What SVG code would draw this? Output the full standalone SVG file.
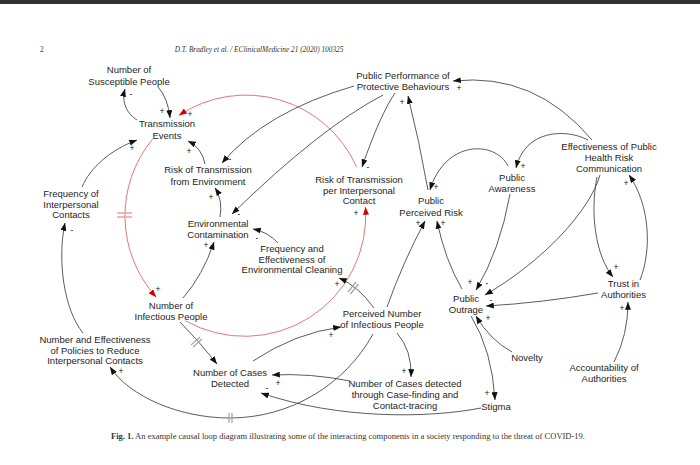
<svg xmlns="http://www.w3.org/2000/svg" width="700" height="465" viewBox="0 0 700 465">
<defs>
<style>
.n{font-family:"Liberation Sans",Arial,sans-serif;font-size:9.5px;fill:#1e1e1e;text-anchor:middle}
.s{font-family:"Liberation Sans",Arial,sans-serif;font-size:8.5px;fill:#111111;text-anchor:middle}
.c{fill:none;stroke:#4a4a4a;stroke-width:0.9;marker-end:url(#ah)}
.r{fill:none;stroke:#e06868;stroke-width:0.9;marker-end:url(#ahr)}
.d{stroke:#a8a8a8;stroke-width:1.3;fill:none}
.dr{stroke:#f2a0a0;stroke-width:1.5;fill:none}
.hd{font-family:"Liberation Serif","Times New Roman",serif;font-size:7.3px;fill:#333}
</style>
<marker id="ah" markerUnits="userSpaceOnUse" markerWidth="8" markerHeight="6" refX="7.8" refY="3" orient="auto" viewBox="0 0 8 6"><path d="M0,0 L8,3 L0,6 z" fill="#111"/></marker>
<marker id="ahr" markerUnits="userSpaceOnUse" markerWidth="8" markerHeight="6" refX="7.8" refY="3" orient="auto" viewBox="0 0 8 6"><path d="M0,0 L8,3 L0,6 z" fill="#d40000"/></marker>
</defs>
<rect width="700" height="465" fill="#ffffff"/>
<rect width="700" height="4" fill="#333"/>
<text class="hd" x="40" y="52">2</text>
<text class="hd" x="259" y="52" text-anchor="middle" font-style="italic">D.T. Bradley et al. / EClinicalMedicine 21 (2020) 100325</text>

<g id="connectors">
<!-- red loop -->
<path class="r" d="M356.5,166.8 A121,121 0 0 0 179,115.3"/>
<path class="r" d="M152.6,139 A121,121 0 0 0 156.1,297"/>
<path class="r" d="M185.5,320.8 A121,121 0 0 0 365.5,207"/>
<line class="dr" x1="117" y1="213" x2="132" y2="213"/>
<line class="dr" x1="117" y1="217" x2="132" y2="217"/>
<!-- grey -->
<path class="c" d="M137,120 C128,114 121,104 125,89"/>
<path class="c" d="M158,87 Q168,98 170,118"/>
<path class="c" d="M205,164 Q202,148 188,141"/>
<path class="c" d="M82,187 C90,168 110,150 137,140"/>
<path class="c" d="M83,333 C64,310 57,260 65,223"/>
<path class="c" d="M354,86 Q265,112 222,163"/>
<path class="c" d="M383,95 Q320,128 232,214"/>
<path class="c" d="M395,93 Q380,115 362,167"/>
<path class="c" d="M220,217 Q223,200 215,188"/>
<path class="c" d="M278,243 Q268,232 253,229"/>
<path class="c" d="M183,298 Q203,275 214,242"/>
<path class="c" d="M180,322 Q198,340 217,364"/>
<path class="c" d="M374,308 Q358,286 339,278"/>
<path class="c" d="M253,361 Q295,333 341,327"/>
<path class="c" d="M350,381 Q310,373 272,375"/>
<path class="c" d="M481,408 C430,418 340,420 261,393"/>
<path class="c" d="M373,334 C345,385 290,418 230,418 C180,418 130,397 110,367"/>
<path class="c" d="M387,307 Q403,262 425,221"/>
<path class="c" d="M397,333 Q412,350 411,377"/>
<path class="c" d="M428,190 Q419,140 408,96"/>
<path class="c" d="M508,166 C495,140 445,140 430,190"/>
<path class="c" d="M462,289 Q445,260 437,221"/>
<path class="c" d="M510,194 Q500,250 476,290"/>
<path class="c" d="M600,175 C590,210 545,260 485,295"/>
<path class="c" d="M598,293 Q540,303 486,306"/>
<path class="c" d="M597,177 C590,212 595,255 613,277"/>
<path class="c" d="M640,280 C652,250 650,205 629,175"/>
<path class="c" d="M614,362 Q628,335 628,302"/>
<path class="c" d="M592,140 Q535,72 453,81"/>
<path class="c" d="M588,140 C565,128 525,130 516,168"/>
<path class="c" d="M512,352 Q490,340 476,316"/>
<path class="c" d="M471,316 Q492,350 495,400"/>
<!-- delay marks -->
<line class="d" x1="191" y1="345" x2="200" y2="337"/>
<line class="d" x1="193" y1="347" x2="202" y2="339"/>
<line class="d" x1="348" y1="292" x2="356" y2="282"/>
<line class="d" x1="350.5" y1="294" x2="358.5" y2="284"/>
<line class="d" x1="229" y1="413" x2="229" y2="423"/>
<line class="d" x1="232" y1="413" x2="232" y2="423"/>
</g>

<g id="signs">
<text class="s" x="131" y="97">-</text>
<text class="s" x="162" y="114">+</text>
<text class="s" x="190" y="116.5">+</text>
<text class="s" x="132" y="151">+</text>
<text class="s" x="189" y="154">+</text>
<text class="s" x="230" y="161.5">-</text>
<text class="s" x="211" y="200">+</text>
<text class="s" x="239" y="217">-</text>
<text class="s" x="257" y="241">-</text>
<text class="s" x="206" y="248">+</text>
<text class="s" x="72" y="233">-</text>
<text class="s" x="158" y="292">+</text>
<text class="s" x="337" y="287">+</text>
<text class="s" x="356" y="216">+</text>
<text class="s" x="368" y="170">-</text>
<text class="s" x="402" y="105">+</text>
<text class="s" x="436" y="190">+</text>
<text class="s" x="418" y="226">+</text>
<text class="s" x="443" y="226">+</text>
<text class="s" x="459" y="91">+</text>
<text class="s" x="523" y="169">+</text>
<text class="s" x="470" y="285">+</text>
<text class="s" x="487" y="286">-</text>
<text class="s" x="491" y="303">-</text>
<text class="s" x="616" y="270">+</text>
<text class="s" x="626" y="186">+</text>
<text class="s" x="622" y="311">+</text>
<text class="s" x="488" y="321">+</text>
<text class="s" x="487" y="396">+</text>
<text class="s" x="404" y="374">+</text>
<text class="s" x="331" y="338">+</text>
<text class="s" x="278" y="386">+</text>
<text class="s" x="267" y="391">-</text>
<text class="s" x="121" y="374">+</text>
</g>

<g id="n-susceptible"><text class="n" x="129" y="73">Number of</text><text class="n" x="129" y="85">Susceptible People</text></g>
<g id="n-transmission"><text class="n" x="167" y="127">Transmission</text><text class="n" x="167" y="139">Events</text></g>
<g id="n-risk-env"><text class="n" x="208" y="173">Risk of Transmission</text><text class="n" x="208" y="185">from Environment</text></g>
<g id="n-freq-contacts"><text class="n" x="71" y="197">Frequency of</text><text class="n" x="71" y="207.5">Interpersonal</text><text class="n" x="71" y="218">Contacts</text></g>
<g id="n-env-contam"><text class="n" x="218" y="227">Environmental</text><text class="n" x="218" y="238">Contamination</text></g>
<g id="n-cleaning"><text class="n" x="292" y="252">Frequency and</text><text class="n" x="292" y="262.5">Effectiveness of</text><text class="n" x="292" y="273">Environmental Cleaning</text></g>
<g id="n-infectious"><text class="n" x="171" y="309">Number of</text><text class="n" x="171" y="320">Infectious People</text></g>
<g id="n-risk-contact"><text class="n" x="359" y="183">Risk of Transmission</text><text class="n" x="359" y="194">per Interpersonal</text><text class="n" x="359" y="204">Contact</text></g>
<g id="n-perceived-risk"><text class="n" x="431" y="204">Public</text><text class="n" x="431" y="215.5">Perceived Risk</text></g>
<g id="n-protective"><text class="n" x="403" y="79">Public Performance of</text><text class="n" x="403" y="90">Protective Behaviours</text></g>
<g id="n-awareness"><text class="n" x="512" y="181">Public</text><text class="n" x="512" y="192">Awareness</text></g>
<g id="n-communication"><text class="n" x="609" y="150">Effectiveness of Public</text><text class="n" x="609" y="161">Health Risk</text><text class="n" x="609" y="172">Communication</text></g>
<g id="n-trust"><text class="n" x="623.5" y="287">Trust in</text><text class="n" x="623.5" y="297.5">Authorities</text></g>
<g id="n-outrage"><text class="n" x="466" y="302">Public</text><text class="n" x="466" y="313">Outrage</text></g>
<g id="n-perceived-number"><text class="n" x="382" y="317">Perceived Number</text><text class="n" x="382" y="328">of Infectious People</text></g>
<g id="n-policies"><text class="n" x="95" y="343">Number and Effectiveness</text><text class="n" x="95" y="353.5">of Policies to Reduce</text><text class="n" x="95" y="364">Interpersonal Contacts</text></g>
<g id="n-cases"><text class="n" x="230" y="376">Number of Cases</text><text class="n" x="230" y="387">Detected</text></g>
<g id="n-cases-tracing"><text class="n" x="405" y="387">Number of Cases detected</text><text class="n" x="405" y="398">through Case-finding and</text><text class="n" x="405" y="409">Contact-tracing</text></g>
<g id="n-novelty"><text class="n" x="527" y="361">Novelty</text></g>
<g id="n-accountability"><text class="n" x="604" y="371">Accountability of</text><text class="n" x="604" y="382">Authorities</text></g>
<g id="n-stigma"><text class="n" x="496" y="410">Stigma</text></g>

<text class="hd" x="111" y="439" textLength="474" lengthAdjust="spacingAndGlyphs"><tspan font-weight="bold">Fig. 1.</tspan>  An example causal loop diagram illustrating some of the interacting components in a society responding to the threat of COVID-19.</text>
</svg>
